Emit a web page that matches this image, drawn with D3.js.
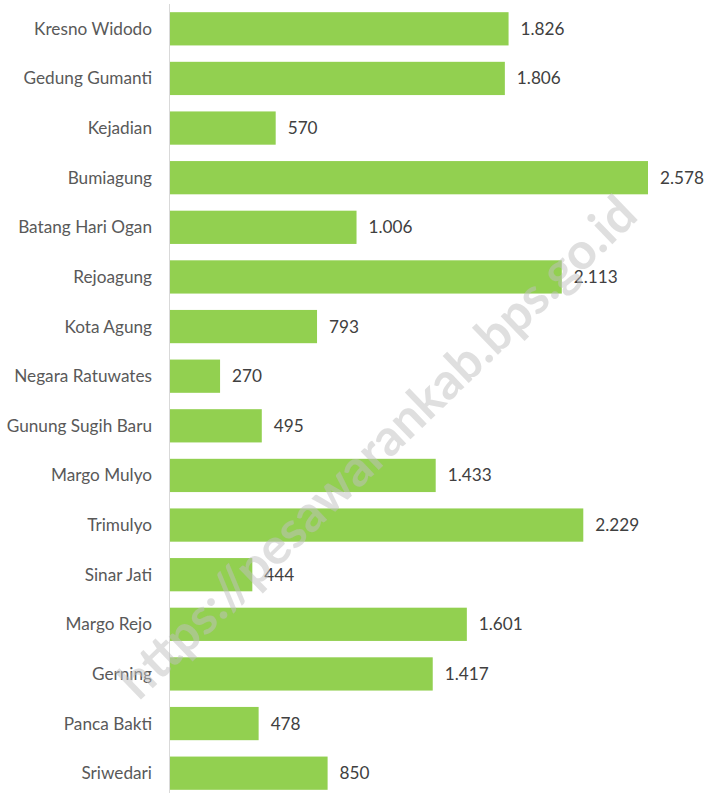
<!DOCTYPE html>
<html>
<head>
<meta charset="utf-8">
<script src="https://cdn.jsdelivr.net/npm/d3@7"></script>
<style>
  body { margin: 0; background: #fff; }
  text { font-family: Lato, "Open Sans", sans-serif; }
</style>
</head>
<body>
<div id="chart"></div>
<script>
const width = 705;
const height = 793;

// data
const villages = [
  "Kresno Widodo", "Gedung Gumanti", "Kejadian", "Bumiagung", "Batang Hari Ogan",
  "Rejoagung", "Kota Agung", "Negara Ratuwates", "Gunung Sugih Baru", "Margo Mulyo",
  "Trimulyo", "Sinar Jati", "Margo Rejo", "Gerning", "Panca Bakti", "Sriwedari"
];
const values = [1826, 1806, 570, 2578, 1006, 2113, 793, 270, 495, 1433, 2229, 444, 1601, 1417, 478, 850];

const idLocale = d3.formatLocale({ decimal: ",", thousands: ".", grouping: [3], currency: ["Rp", ""] });
const fmt = idLocale.format(",d");

const svg = d3.select("#chart")
  .append("svg")
  .attr("width", width)
  .attr("height", height);

const x = d3.scaleLinear()
  .domain([0, d3.max(values)])
  .range([170, 648]);

const y = d3.scaleBand()
  .domain(villages)
  .range([4, 798])
  .paddingInner(0.33)
  .paddingOuter(0.165);

const rows = villages.map((name, i) => ({ name, value: values[i] }));

svg.selectAll("rect.bar")
  .data(rows)
  .enter()
  .append("rect")
  .attr("class", "bar")
  .attr("x", x(0))
  .attr("y", d => y(d.name))
  .attr("width", d => x(d.value) - x(0))
  .attr("height", y.bandwidth())
  .attr("fill", "#92d050");

// category axis line
svg.append("line")
  .attr("x1", x(0) - 0.5)
  .attr("x2", x(0) - 0.5)
  .attr("y1", 4)
  .attr("y2", height)
  .attr("stroke", "#d9d9d9")
  .attr("stroke-width", 1);

svg.selectAll("text.cat")
  .data(rows)
  .enter()
  .append("text")
  .attr("class", "cat")
  .attr("x", 152)
  .attr("y", d => y(d.name) + y.bandwidth() / 2)
  .attr("dy", "0.35em")
  .attr("text-anchor", "end")
  .attr("font-size", 17.2)
  .attr("fill", "#595959")
  .text(d => d.name);

svg.selectAll("text.val")
  .data(rows)
  .enter()
  .append("text")
  .attr("class", "val")
  .attr("x", d => x(d.value) + 12)
  .attr("y", d => y(d.name) + y.bandwidth() / 2)
  .attr("dy", "0.35em")
  .attr("font-size", 17.2)
  .attr("fill", "#404040")
  .text(d => fmt(d.value));

// watermark
svg.append("text")
  .attr("transform", "translate(377,447) rotate(-44)")
  .attr("text-anchor", "middle")
  .attr("dy", "0.35em")
  .attr("font-family", "Liberation Sans, Arial, sans-serif")
  .attr("font-weight", "bold")
  .attr("font-size", 50.5)
  .attr("fill", "#bfbfbf")
  .attr("fill-opacity", 0.5)
  .text("https://pesawarankab.bps.go.id");
</script>
</body>
</html>
